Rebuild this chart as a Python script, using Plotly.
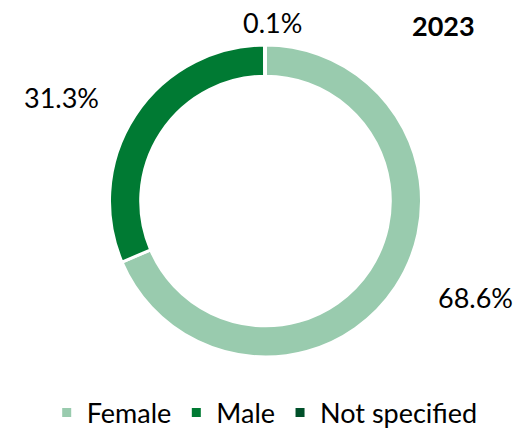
import plotly.graph_objects as go

categories = ["Female", "Male", "Not specified"]
values = [68.6, 31.3, 0.1]
colors = ["#99CBAE", "#007A33", "#00502A"]
title_text = "2023"

W, H = 517, 438
cx, cy, r = 265.5, 201, 156

fig = go.Figure(go.Pie(
    labels=categories,
    values=values,
    hole=0.8,
    sort=False,
    direction="clockwise",
    rotation=0,
    marker=dict(colors=colors, line=dict(color="white", width=3)),
    textinfo="none",
    hoverinfo="label+percent",
    domain=dict(x=[(cx - r) / W, (cx + r) / W], y=[(H - cy - r) / H, (H - cy + r) / H]),
))

font_family = "Lato, 'Open Sans', sans-serif"
fs = 27
label_pos = [(475, 297), (61, 98), (272, 22)]
annotations = []
for v, (px, py) in zip(values, label_pos):
    annotations.append(dict(
        text=f"{v:.1f}%", x=px / W, y=1 - py / H, xref="paper", yref="paper",
        xanchor="center", yanchor="middle", showarrow=False,
        font=dict(size=fs, color="#000000", family=font_family),
    ))
annotations.append(dict(
    text=f"<b>{title_text}</b>", x=443 / W, y=1 - 26 / H, xref="paper", yref="paper",
    xanchor="center", yanchor="middle", showarrow=False,
    font=dict(size=fs, color="#000000", family=font_family),
))

fig.update_layout(
    width=W, height=H,
    margin=dict(l=0, r=0, t=0, b=0),
    paper_bgcolor="white", plot_bgcolor="white",
    showlegend=True,
    legend=dict(orientation="h", x=0.512, xanchor="center", y=25 / H, yanchor="middle",
                font=dict(size=fs, color="#000000", family=font_family),
                itemwidth=30, tracegroupgap=0),
    annotations=annotations,
)

fig.write_html("out.html", config={"displayModeBar": False},
               post_script="document.body.style.margin='0';document.body.style.padding='0';")
